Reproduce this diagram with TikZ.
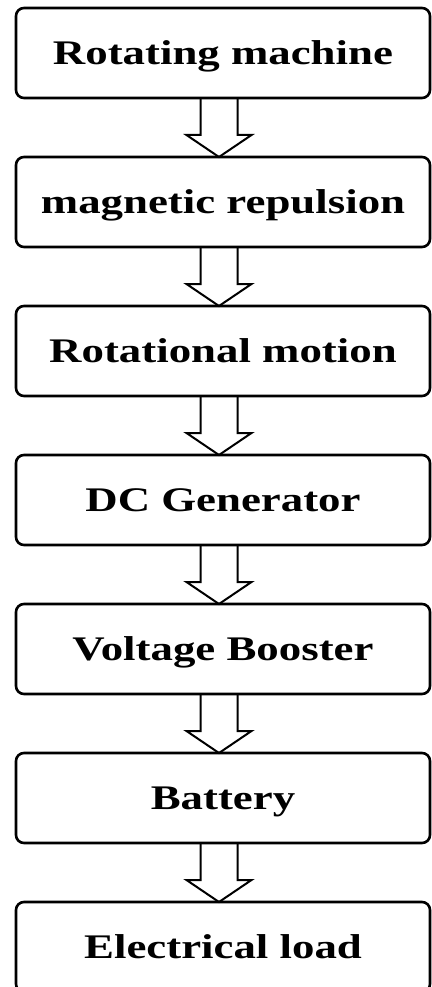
\documentclass[tikz,border=0pt]{standalone}
\usepackage{fontspec}
\setmainfont{Liberation Serif}[FakeStretch=1.3]
\usetikzlibrary{positioning,calc}

\begin{document}
\begin{tikzpicture}[
    stage/.style={
        rectangle,
        rounded corners=8pt,
        draw=black,
        line width=2.6pt,
        fill=white,
        outer sep=0pt,
        minimum width=414pt,
        minimum height=90pt,
        text height=23pt,
        text depth=0pt,
        font=\fontsize{34.5}{38}\selectfont\bfseries
    },
    hollow/.style={
        draw=black,
        line width=2pt,
        to path={($(\tikztostart)+(-22.5pt,0)$) |- ($(\tikztotarget)+(-36.5pt,22pt)$)
            -- ($(\tikztotarget)+(-4pt,0)$) -- ($(\tikztotarget)+(28.5pt,22pt)$)
            -| ($(\tikztostart)+(14.5pt,0)$)}
    },
    node distance=59pt
]

% page frame (bottom box runs off the edge)
\useasboundingbox (-223pt,53pt) rectangle (208pt,-934pt);

% chain of stages
\node[stage] (rotmach) at (0,0) {Rotating machine};
\node[stage, below=of rotmach] (magrep) {magnetic repulsion};
\node[stage, below=of magrep] (rotmot) {Rotational motion};
\node[stage, below=of rotmot] (dcgen) {DC Generator};
\node[stage, below=of dcgen] (booster) {Voltage Booster};
\node[stage, below=of booster] (battery) {Battery};
\node[stage, below=of battery] (load) {Electrical load};

% block arrows between stages
\draw[hollow] (rotmach.south) to (magrep.north);
\draw[hollow] (magrep.south) to (rotmot.north);
\draw[hollow] (rotmot.south) to (dcgen.north);
\draw[hollow] (dcgen.south) to (booster.north);
\draw[hollow] (booster.south) to (battery.north);
\draw[hollow] (battery.south) to (load.north);

\end{tikzpicture}
\end{document}
